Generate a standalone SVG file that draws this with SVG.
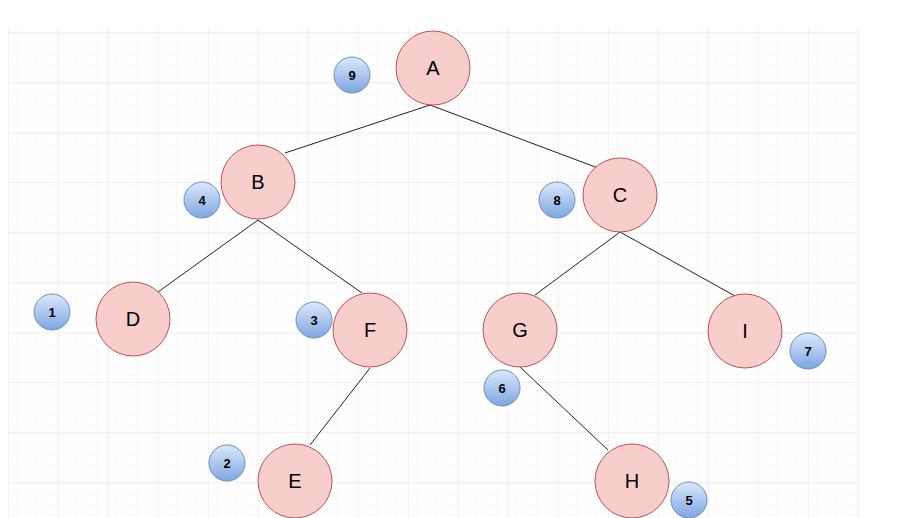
<svg xmlns="http://www.w3.org/2000/svg" width="900" height="518" viewBox="0 0 900 518">
<defs>
<pattern id="minor" width="10" height="10" patternUnits="userSpaceOnUse" x="8" y="32"><path d="M10 0H0V10" fill="none" stroke="#f3f3f3" stroke-width="1"/></pattern>
<pattern id="major" width="50" height="50" patternUnits="userSpaceOnUse" x="8" y="32"><rect width="50" height="50" fill="url(#minor)"/><path d="M50 0H0V50" fill="none" stroke="#e6e6e6" stroke-width="1"/></pattern>
<linearGradient id="bg" x1="0" y1="0" x2="0" y2="1"><stop offset="0" stop-color="#dae8fc"/><stop offset="1" stop-color="#7ea6e0"/></linearGradient>
<style>
.n{fill:#f8cecc;stroke:#b85450;stroke-width:1}
.b{fill:url(#bg);stroke:#6c8ebf;stroke-width:1}
.t{font-family:"Liberation Sans",Arial,sans-serif;font-size:20px;fill:#000;text-anchor:middle;dominant-baseline:central}
.bt{font-family:"Liberation Sans",Arial,sans-serif;font-size:13px;font-weight:bold;fill:#000;text-anchor:middle;dominant-baseline:central}
.e{stroke:#222;stroke-width:1;fill:none}
</style>
</defs>
<rect width="900" height="518" fill="#fff"/>
<rect x="8" y="28" width="851" height="490" fill="url(#major)"/>
<g id="connectors">
<path class="e" d="M430 105L285 153"/>
<path class="e" d="M430 105L598 168"/>
<path class="e" d="M258 220L158 292"/>
<path class="e" d="M258 220L362 293"/>
<path class="e" d="M620 232L535 295"/>
<path class="e" d="M620 232L735 296"/>
<path class="e" d="M370 368L310 445"/>
<path class="e" d="M520 367L608 450"/>
</g>
<g id="A"><circle class="n" cx="433" cy="68" r="37"/><text class="t" x="433" y="68">A</text></g>
<g id="B"><circle class="n" cx="258" cy="182" r="37"/><text class="t" x="258" y="182">B</text></g>
<g id="C"><circle class="n" cx="620" cy="195" r="37"/><text class="t" x="620" y="195">C</text></g>
<g id="D"><circle class="n" cx="133" cy="319" r="37"/><text class="t" x="133" y="319">D</text></g>
<g id="F"><circle class="n" cx="370" cy="330" r="37"/><text class="t" x="370" y="330">F</text></g>
<g id="G"><circle class="n" cx="520" cy="330" r="37"/><text class="t" x="520" y="330">G</text></g>
<g id="I"><circle class="n" cx="745" cy="331" r="37"/><text class="t" x="745" y="331">I</text></g>
<g id="E"><circle class="n" cx="295" cy="481" r="37"/><text class="t" x="295" y="481">E</text></g>
<g id="H"><circle class="n" cx="632" cy="481" r="37"/><text class="t" x="632" y="481">H</text></g>
<g id="b9"><circle class="b" cx="352" cy="75" r="18"/><text class="bt" x="352" y="75">9</text></g>
<g id="b4"><circle class="b" cx="202" cy="200" r="18"/><text class="bt" x="202" y="200">4</text></g>
<g id="b8"><circle class="b" cx="557" cy="200" r="18"/><text class="bt" x="557" y="200">8</text></g>
<g id="b1"><circle class="b" cx="52" cy="312" r="18"/><text class="bt" x="52" y="312">1</text></g>
<g id="b3"><circle class="b" cx="314" cy="320" r="18"/><text class="bt" x="314" y="320">3</text></g>
<g id="b6"><circle class="b" cx="502" cy="388" r="18"/><text class="bt" x="502" y="388">6</text></g>
<g id="b7"><circle class="b" cx="808" cy="351" r="18"/><text class="bt" x="808" y="351">7</text></g>
<g id="b2"><circle class="b" cx="227" cy="463" r="18"/><text class="bt" x="227" y="463">2</text></g>
<g id="b5"><circle class="b" cx="689" cy="500" r="18"/><text class="bt" x="689" y="500">5</text></g>
</svg>
